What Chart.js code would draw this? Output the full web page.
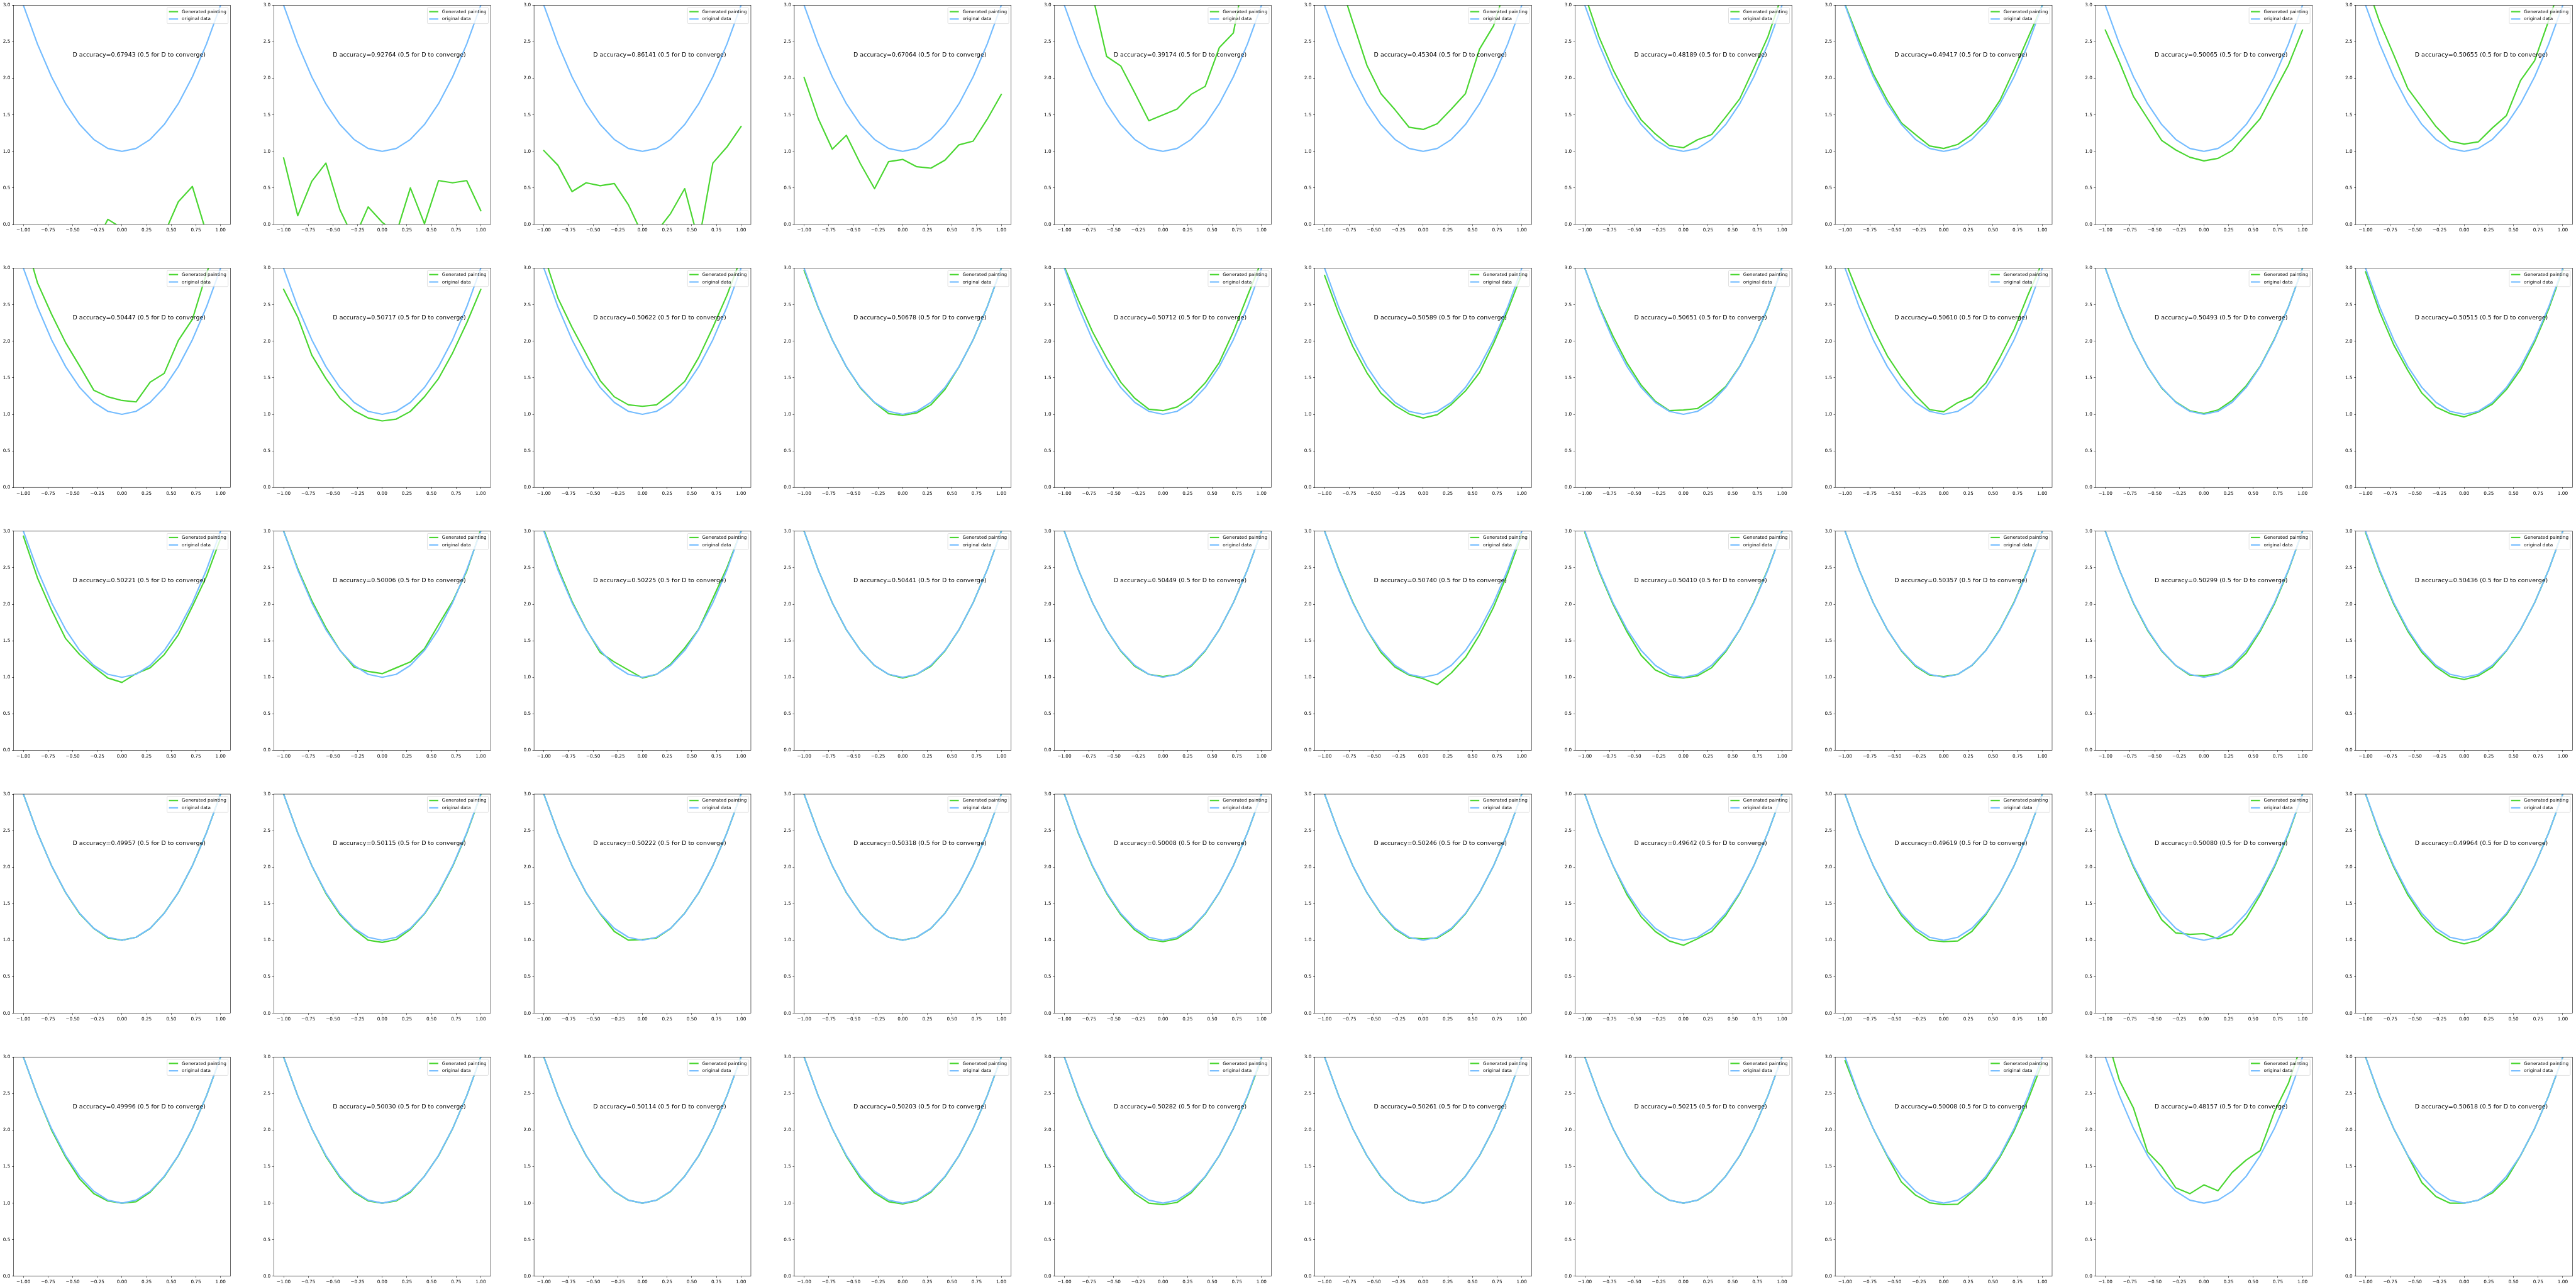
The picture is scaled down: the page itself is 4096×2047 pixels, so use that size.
<!DOCTYPE html>
<html><head><meta charset="utf-8">
<script src="https://cdn.jsdelivr.net/npm/chart.js@4.4.1/dist/chart.umd.min.js"></script>
<style>
html,body{margin:0;padding:0;background:#fff;overflow:hidden;}
#wrap{position:relative;width:4096px;height:2047px;overflow:hidden;background:#fff;}
#wrap canvas{position:absolute;}
</style></head><body><div id="wrap"></div>
<script>
// ---------------- data ----------------
const xPoints = [-1, -0.857143, -0.714286, -0.571429, -0.428571, -0.285714, -0.142857, 0, 0.142857, 0.285714, 0.428571, 0.571429, 0.714286, 0.857143, 1];
const originalData = [3, 2.469388, 2.020408, 1.653061, 1.367347, 1.163265, 1.040816, 1, 1.040816, 1.163265, 1.367347, 1.653061, 2.020408, 2.469388, 3];
const seriesNames = ['Generated painting', 'original data'];
const xTickValues = [-1, -0.75, -0.5, -0.25, 0, 0.25, 0.5, 0.75, 1];
const xTickLabels = ['\u22121.00', '\u22120.75', '\u22120.50', '\u22120.25', '0.00', '0.25', '0.50', '0.75', '1.00'];
const yTickValues = [0, 0.5, 1, 1.5, 2, 2.5, 3];
const yTickLabels = ['0.0', '0.5', '1.0', '1.5', '2.0', '2.5', '3.0'];

const accuracyRow1 = ['0.67943', '0.92764', '0.86141', '0.67064', '0.39174', '0.45304', '0.48189', '0.49417', '0.50065', '0.50655'];
const accuracyRow2 = ['0.50447', '0.50717', '0.50622', '0.50678', '0.50712', '0.50589', '0.50651', '0.50610', '0.50493', '0.50515'];
const accuracyRow3 = ['0.50221', '0.50006', '0.50225', '0.50441', '0.50449', '0.50740', '0.50410', '0.50357', '0.50299', '0.50436'];
const accuracyRow4 = ['0.49957', '0.50115', '0.50222', '0.50318', '0.50008', '0.50246', '0.49642', '0.49619', '0.50080', '0.49964'];
const accuracyRow5 = ['0.49996', '0.50030', '0.50114', '0.50203', '0.50282', '0.50261', '0.50215', '0.50008', '0.48157', '0.50618'];

const generatedRow1 = [
  [-0.8, -0.6, -0.9, -0.5, -0.4, -0.3, 0.07, -0.05, -0.4, -0.3, -0.13, 0.31, 0.52, -0.12, -0.5],
  [0.91, 0.12, 0.59, 0.84, 0.2, -0.2, 0.24, 0.03, -0.12, 0.5, 0.01, 0.6, 0.57, 0.6, 0.19],
  [1.01, 0.81, 0.45, 0.57, 0.53, 0.56, 0.27, -0.14, -0.1, 0.15, 0.49, -0.24, 0.84, 1.06, 1.34],
  [2.01, 1.45, 1.03, 1.22, 0.83, 0.49, 0.86, 0.89, 0.79, 0.77, 0.88, 1.09, 1.14, 1.44, 1.78],
  [3.9, 3.5, 3.14, 2.30, 2.17, 1.80, 1.42, 1.50, 1.58, 1.78, 1.89, 2.42, 2.62, 3.62, 4.0],
  [3.8, 3.37, 2.77, 2.18, 1.79, 1.57, 1.33, 1.30, 1.38, 1.58, 1.79, 2.40, 2.72, 3.34, 3.9],
  [3.14, 2.57, 2.12, 1.75, 1.43, 1.24, 1.08, 1.05, 1.16, 1.23, 1.47, 1.72, 2.14, 2.57, 3.14],
  [3.01, 2.52, 2.06, 1.70, 1.39, 1.23, 1.075, 1.04, 1.095, 1.23, 1.41, 1.70, 2.12, 2.56, 3.0],
  [2.66, 2.22, 1.75, 1.45, 1.15, 1.02, 0.92, 0.87, 0.905, 1.01, 1.23, 1.45, 1.82, 2.18, 2.66],
  [3.33, 2.77, 2.32, 1.86, 1.60, 1.34, 1.14, 1.10, 1.13, 1.32, 1.49, 1.97, 2.24, 2.79, 3.36]
];
const generatedRow2 = [
  [3.47, 2.80, 2.37, 1.98, 1.66, 1.33, 1.24, 1.19, 1.17, 1.44, 1.56, 2.01, 2.30, 2.93, 3.45],
  [2.71, 2.33, 1.81, 1.49, 1.22, 1.05, 0.95, 0.91, 0.935, 1.04, 1.24, 1.49, 1.84, 2.25, 2.71],
  [3.18, 2.59, 2.19, 1.83, 1.46, 1.24, 1.13, 1.11, 1.13, 1.28, 1.45, 1.78, 2.19, 2.63, 3.14],
  [2.97, 2.46, 2.02, 1.65, 1.36, 1.16, 1.01, 0.985, 1.02, 1.13, 1.34, 1.65, 2.02, 2.47, 3.0],
  [3.02, 2.56, 2.13, 1.77, 1.44, 1.22, 1.07, 1.05, 1.10, 1.23, 1.43, 1.71, 2.13, 2.62, 3.1],
  [2.90, 2.38, 1.93, 1.57, 1.29, 1.12, 1.005, 0.95, 0.995, 1.135, 1.32, 1.57, 1.97, 2.42, 2.92],
  [3.0, 2.49, 2.07, 1.70, 1.40, 1.18, 1.05, 1.06, 1.08, 1.21, 1.38, 1.66, 2.02, 2.46, 3.01],
  [3.1, 2.62, 2.18, 1.80, 1.51, 1.26, 1.065, 1.035, 1.16, 1.24, 1.43, 1.78, 2.16, 2.64, 3.08],
  [3.0, 2.47, 2.02, 1.65, 1.36, 1.17, 1.05, 1.01, 1.06, 1.19, 1.39, 1.66, 2.03, 2.47, 3.0],
  [2.95, 2.40, 1.95, 1.60, 1.29, 1.10, 1.01, 0.965, 1.03, 1.14, 1.34, 1.61, 1.99, 2.44, 2.98]
];
const generatedRow3 = [
  [2.93, 2.36, 1.92, 1.53, 1.31, 1.14, 0.99, 0.93, 1.05, 1.13, 1.31, 1.58, 1.97, 2.38, 2.90],
  [3.0, 2.49, 2.05, 1.68, 1.37, 1.14, 1.08, 1.05, 1.13, 1.21, 1.39, 1.72, 2.04, 2.45, 3.02],
  [3.02, 2.5, 2.04, 1.66, 1.34, 1.21, 1.1, 0.99, 1.04, 1.18, 1.40, 1.66, 2.08, 2.5, 3.0],
  [3.0, 2.47, 2.02, 1.65, 1.37, 1.16, 1.04, 0.99, 1.04, 1.15, 1.36, 1.65, 2.02, 2.47, 3.0],
  [3.0, 2.47, 2.02, 1.65, 1.36, 1.15, 1.04, 1.01, 1.04, 1.15, 1.36, 1.65, 2.02, 2.47, 3.0],
  [3.0, 2.48, 2.03, 1.65, 1.34, 1.14, 1.03, 0.98, 0.90, 1.06, 1.27, 1.58, 1.96, 2.42, 2.95],
  [2.98, 2.45, 2.0, 1.62, 1.30, 1.10, 1.01, 0.99, 1.02, 1.13, 1.35, 1.65, 2.03, 2.48, 3.0],
  [3.0, 2.47, 2.02, 1.65, 1.36, 1.15, 1.03, 1.01, 1.04, 1.16, 1.37, 1.66, 2.03, 2.48, 3.0],
  [3.0, 2.47, 2.01, 1.64, 1.36, 1.16, 1.03, 1.02, 1.05, 1.14, 1.33, 1.63, 2.0, 2.46, 3.0],
  [2.98, 2.45, 2.0, 1.63, 1.34, 1.14, 1.01, 0.97, 1.02, 1.14, 1.36, 1.65, 2.02, 2.47, 3.0]
];
const generatedRow4 = [
  [3.0, 2.47, 2.02, 1.65, 1.36, 1.16, 1.03, 1.0, 1.04, 1.16, 1.37, 1.65, 2.02, 2.47, 3.0],
  [3.0, 2.47, 2.02, 1.64, 1.35, 1.15, 1.0, 0.97, 1.01, 1.15, 1.36, 1.64, 2.01, 2.46, 2.99],
  [3.0, 2.47, 2.02, 1.65, 1.36, 1.12, 1.0, 1.01, 1.03, 1.16, 1.37, 1.65, 2.02, 2.47, 3.0],
  [3.0, 2.47, 2.02, 1.65, 1.37, 1.16, 1.04, 1.0, 1.04, 1.16, 1.37, 1.65, 2.02, 2.47, 3.0],
  [3.0, 2.46, 2.01, 1.64, 1.35, 1.14, 1.01, 0.98, 1.02, 1.15, 1.36, 1.65, 2.02, 2.47, 3.0],
  [3.0, 2.47, 2.02, 1.65, 1.36, 1.15, 1.03, 1.02, 1.03, 1.15, 1.36, 1.65, 2.02, 2.47, 3.0],
  [3.0, 2.47, 2.02, 1.62, 1.32, 1.12, 0.99, 0.93, 1.02, 1.12, 1.34, 1.64, 2.02, 2.47, 3.0],
  [3.0, 2.47, 2.02, 1.64, 1.34, 1.13, 1.0, 0.98, 0.99, 1.12, 1.35, 1.65, 2.02, 2.47, 3.0],
  [3.0, 2.46, 2.0, 1.62, 1.28, 1.10, 1.08, 1.09, 1.02, 1.08, 1.30, 1.62, 2.0, 2.45, 3.0],
  [3.0, 2.45, 2.0, 1.62, 1.33, 1.12, 1.0, 0.95, 1.0, 1.14, 1.35, 1.64, 2.02, 2.47, 3.0]
];
const generatedRow5 = [
  [3.0, 2.47, 2.0, 1.63, 1.33, 1.13, 1.03, 1.0, 1.02, 1.15, 1.36, 1.65, 2.02, 2.47, 3.0],
  [3.0, 2.47, 2.02, 1.64, 1.35, 1.15, 1.03, 1.0, 1.03, 1.15, 1.37, 1.65, 2.02, 2.47, 3.0],
  [3.0, 2.47, 2.02, 1.65, 1.36, 1.16, 1.04, 1.0, 1.04, 1.16, 1.37, 1.65, 2.02, 2.47, 3.0],
  [3.0, 2.47, 2.02, 1.64, 1.34, 1.14, 1.02, 0.99, 1.03, 1.15, 1.36, 1.65, 2.02, 2.47, 3.0],
  [3.0, 2.46, 2.01, 1.63, 1.33, 1.13, 1.0, 0.98, 1.01, 1.14, 1.36, 1.65, 2.02, 2.46, 2.98],
  [3.0, 2.47, 2.02, 1.65, 1.36, 1.16, 1.04, 1.0, 1.04, 1.16, 1.37, 1.65, 2.02, 2.47, 3.0],
  [3.0, 2.47, 2.02, 1.65, 1.36, 1.16, 1.04, 1.0, 1.04, 1.16, 1.37, 1.65, 2.02, 2.47, 3.0],
  [2.95, 2.45, 2.02, 1.64, 1.29, 1.11, 1.005, 0.98, 0.985, 1.15, 1.34, 1.63, 1.99, 2.42, 2.92],
  [3.35, 2.68, 2.30, 1.70, 1.50, 1.21, 1.13, 1.25, 1.17, 1.42, 1.59, 1.72, 2.25, 2.64, 3.21],
  [3.0, 2.46, 2.02, 1.65, 1.28, 1.09, 1.0, 1.0, 1.04, 1.14, 1.33, 1.65, 2.02, 2.47, 3.0]
];

const generatedRows = [generatedRow1, generatedRow2, generatedRow3, generatedRow4, generatedRow5];
const accuracyRows = [accuracyRow1, accuracyRow2, accuracyRow3, accuracyRow4, accuracyRow5];

// ---------------- layout / style ----------------
const S = 0.525;
const AX_L0 = 41 * S, AX_T0 = 16 * S;
const AX_W = 656.8 * S, AX_H = 664 * S;
const PITCH_X = 788.2 * S, PITCH_Y = 796.6 * S;
const DPI_PX = 100 / 72 * S;          // one point in page pixels
const FS_TICK = 10 * DPI_PX;
const FS_LEG = 10 * DPI_PX;
const FS_TEXT = 13 * DPI_PX;
const LW = 3 * DPI_PX;
const SW = 0.8 * DPI_PX;
const TICK_LEN = 3.5 * DPI_PX;
const TICK_PAD = 3.5 * DPI_PX;
const GREEN = '#4AD631', BLUE = '#74BCFF';
const FONT = 'DejaVu Sans';
const TEXT_X = -0.5, TEXT_Y = 2.3;

const decor = {
  id: 'decor',
  afterDraw(chart, args, opts) {
    const ctx = chart.ctx, a = chart.chartArea;
    ctx.save();
    // spines
    ctx.strokeStyle = '#000';
    ctx.lineWidth = SW;
    ctx.strokeRect(a.left, a.top, a.right - a.left, a.bottom - a.top);
    // annotation text
    ctx.font = FS_TEXT + 'px "' + FONT + '"';
    ctx.fillStyle = '#000';
    ctx.textAlign = 'left';
    ctx.textBaseline = 'alphabetic';
    ctx.fillText(opts.text, chart.scales.x.getPixelForValue(TEXT_X), chart.scales.y.getPixelForValue(TEXT_Y));
    // legend
    const em = FS_LEG;
    ctx.font = em + 'px "' + FONT + '"';
    const tw = Math.max(...seriesNames.map(n => ctx.measureText(n).width));
    const bw = tw + 3.6 * em, bh = 3.5 * em;
    const bx = a.right - 0.5 * em - bw, by = a.top + 0.5 * em;
    const rr = 0.2 * em;
    ctx.beginPath();
    ctx.moveTo(bx + rr, by);
    ctx.lineTo(bx + bw - rr, by); ctx.arcTo(bx + bw, by, bx + bw, by + rr, rr);
    ctx.lineTo(bx + bw, by + bh - rr); ctx.arcTo(bx + bw, by + bh, bx + bw - rr, by + bh, rr);
    ctx.lineTo(bx + rr, by + bh); ctx.arcTo(bx, by + bh, bx, by + bh - rr, rr);
    ctx.lineTo(bx, by + rr); ctx.arcTo(bx, by, bx + rr, by, rr);
    ctx.closePath();
    ctx.fillStyle = 'rgba(255,255,255,0.8)';
    ctx.fill();
    ctx.strokeStyle = 'rgba(204,204,204,0.8)';
    ctx.lineWidth = 1 * DPI_PX;
    ctx.stroke();
    const colors = [GREEN, BLUE];
    const rowsY = [by + 0.89 * em, by + 2.5 * em];
    for (let i = 0; i < 2; i++) {
      ctx.beginPath();
      ctx.strokeStyle = colors[i];
      ctx.lineWidth = LW;
      ctx.lineCap = 'square';
      ctx.moveTo(bx + 0.4 * em + LW / 2, rowsY[i]);
      ctx.lineTo(bx + 2.4 * em - LW / 2, rowsY[i]);
      ctx.stroke();
      ctx.fillStyle = '#000';
      ctx.textBaseline = 'middle';
      ctx.fillText(seriesNames[i], bx + 3.2 * em, rowsY[i] + 0.3);
    }
    ctx.restore();
  }
};

const wrap = document.getElementById('wrap');

function makePanel(r, c) {
  const gen = generatedRows[r][c];
  const acc = accuracyRows[r][c];
  const axL = AX_L0 + c * PITCH_X, axT = AX_T0 + r * PITCH_Y;
  const left = Math.floor(axL) - 21, top = Math.floor(axT) - 8;
  const W = 416, H = 420;
  const cv = document.createElement('canvas');
  cv.width = W; cv.height = H;
  cv.style.left = left + 'px'; cv.style.top = top + 'px';
  cv.style.width = W + 'px'; cv.style.height = H + 'px';
  wrap.appendChild(cv);
  const yW = axL - left;
  const padTop = axT - top;
  const padRight = left + W - (axL + AX_W);
  const xH = 20;
  const padBottom = top + H - (axT + AX_H) - xH;
  const tickFont = { family: FONT, size: FS_TICK };
  new Chart(cv, {
    type: 'line',
    data: {
      datasets: [
        { label: seriesNames[0], data: xPoints.map((x, i) => ({ x: x, y: gen[i] })), borderColor: GREEN, order: 1 },
        { label: seriesNames[1], data: xPoints.map((x, i) => ({ x: x, y: originalData[i] })), borderColor: BLUE, order: 0 }
      ]
    },
    options: {
      responsive: false, animation: false, devicePixelRatio: 1, events: [],
      layout: { padding: { left: 0, top: padTop, right: padRight, bottom: padBottom } },
      plugins: { legend: { display: false }, tooltip: { enabled: false }, decor: { text: 'D accuracy=' + acc + ' (0.5 for D to converge)' } },
      elements: {
        point: { radius: 0 },
        line: { tension: 0, borderWidth: LW, borderCapStyle: 'square', borderJoinStyle: 'round', fill: false }
      },
      datasets: { line: { clip: 0 } },
      scales: {
        x: {
          type: 'linear', min: -1.1, max: 1.1,
          afterBuildTicks: s => { s.ticks = xTickValues.map(v => ({ value: v })); },
          afterFit: s => { s.height = xH; },
          ticks: { autoSkip: false, maxRotation: 0, minRotation: 0, padding: TICK_PAD, color: '#000', font: tickFont,
                   callback: (v, i) => xTickLabels[i] },
          grid: { display: true, drawOnChartArea: false, drawTicks: true, tickLength: TICK_LEN, tickWidth: SW, tickColor: '#000', color: '#000', lineWidth: SW },
          border: { display: false }
        },
        y: {
          type: 'linear', min: 0, max: 3,
          afterBuildTicks: s => { s.ticks = yTickValues.map(v => ({ value: v })); },
          afterFit: s => { s.width = yW; },
          ticks: { autoSkip: false, padding: TICK_PAD, color: '#000', font: tickFont,
                   callback: (v, i) => yTickLabels[i] },
          grid: { display: true, drawOnChartArea: false, drawTicks: true, tickLength: TICK_LEN, tickWidth: SW, tickColor: '#000', color: '#000', lineWidth: SW },
          border: { display: false }
        }
      }
    },
    plugins: [decor]
  });
}

for (let r = 0; r < 5; r++) for (let c = 0; c < 10; c++) makePanel(r, c);
</script>
</body></html>
